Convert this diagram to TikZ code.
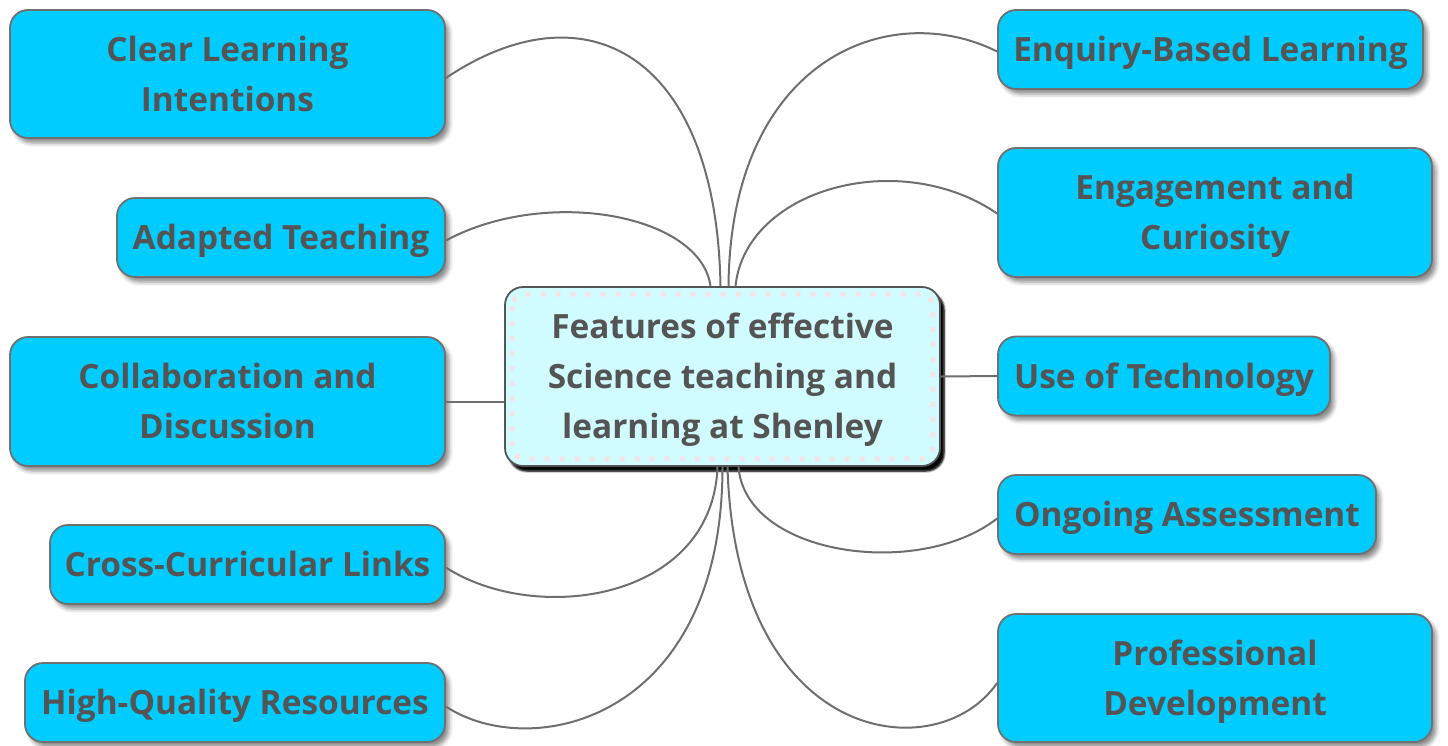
\documentclass[tikz,border=0pt]{standalone}
\usepackage{fontspec}
\setmainfont{Open Sans}
\usetikzlibrary{shadows.blur}

\definecolor{boxblue}{RGB}{0,204,255}
\definecolor{hubfill}{RGB}{208,252,255}
\definecolor{boxline}{RGB}{112,112,112}
\definecolor{hubline}{RGB}{85,85,85}
\definecolor{labelgray}{RGB}{84,84,84}
\definecolor{linkgray}{RGB}{110,110,110}
\definecolor{dotpink}{RGB}{243,228,234}

\tikzset{
    topic/.style={draw=boxline, line width=1.8pt, fill=boxblue, rounded corners=18pt,
        align=center, text=labelgray, inner sep=0pt,
        font=\fontsize{33.4}{50}\selectfont\bfseries,
        text height=39pt, text depth=15pt,
        blur shadow={shadow xshift=4pt, shadow yshift=-5pt, shadow blur radius=4pt, shadow opacity=45}},
    % box heights for labels set on two or three lines
    twolines/.style={text height=89pt},
    threelines/.style={text height=139pt},
    hub/.style={topic, draw=hubline, fill=hubfill,
        blur shadow={shadow xshift=4pt, shadow yshift=-5pt, shadow blur radius=2pt, shadow opacity=85}},
    link/.style={draw=linkgray, line width=2pt}
}

\begin{document}
\begin{tikzpicture}[x=1pt, y=-1pt]

        \useasboundingbox (0,0) rectangle (1448,745);

        % central topic
        \node[hub, threelines, minimum width=435pt, minimum height=179pt] (ctr) at (722.5,376.5)
            {Features of effective\\Science teaching and\\learning at Shenley};
        \draw[dotpink, line width=5pt, dash pattern=on 5pt off 10pt, rounded corners=12pt]
            ([xshift=8pt,yshift=-8pt]ctr.north west) rectangle ([xshift=-8pt,yshift=8pt]ctr.south east);

        % left branches
        \node[topic, twolines, minimum width=435pt, minimum height=128pt] (cli) at (227.5,74) {Clear Learning\\Intentions};
        \node[topic, minimum width=328pt, minimum height=79pt] (adapt) at (281,237.5) {Adapted Teaching};
        \node[topic, twolines, minimum width=435pt, minimum height=129pt] (collab) at (227.5,401.5) {Collaboration and\\Discussion};
        \node[topic, minimum width=395pt, minimum height=79pt] (cross) at (247.5,564.5) {Cross-Curricular Links};
        \node[topic, minimum width=420pt, minimum height=79pt] (res) at (235,702.5) {High-Quality Resources};

        % right branches
        \node[topic, minimum width=425pt, minimum height=79pt] (enq) at (1210.5,49.5) {Enquiry-Based Learning};
        \node[topic, twolines, minimum width=434pt, minimum height=129pt] (engage) at (1215,212.5) {Engagement and\\Curiosity};
        \node[topic, minimum width=332pt, minimum height=79pt] (tech) at (1164,376) {Use of Technology};
        \node[topic, minimum width=378pt, minimum height=79pt] (assess) at (1187,514.5) {Ongoing Assessment};
        \node[topic, twolines, minimum width=434pt, minimum height=128pt] (prof) at (1215,678) {Professional\\Development};

        % links above the hub
        \draw[link] ([yshift=-4pt]cli.east) .. controls +(140,-94) and +(-4,-232) .. ([xshift=-2pt]ctr.north);
        \draw[link] ([yshift=-3pt]adapt.east) .. controls +(100,-54) and +(-10,-72) .. ([xshift=-12pt]ctr.north);
        \draw[link] ([yshift=-2pt]enq.west) .. controls +(-108,-54) and +(2,-227) .. ([xshift=6pt]ctr.north);
        \draw[link] ([yshift=-1pt]engage.west) .. controls +(-98,-67) and +(10,-97) .. ([xshift=13pt]ctr.north);

        % links below the hub
        \draw[link] ([yshift=-3pt]cross.east) .. controls +(90,58) and +(-5,134) .. ([xshift=-5pt]ctr.south);
        \draw[link] ([yshift=-4pt]res.east) .. controls +(85,56) and +(0,254) .. ([xshift=0pt]ctr.south);
        \draw[link] ([yshift=-4pt]assess.west) .. controls +(-78,61) and +(7,89) .. ([xshift=16pt]ctr.south);
        \draw[link] ([yshift=-5pt]prof.west) .. controls +(-60,87) and +(8,279) .. ([xshift=5pt]ctr.south);

        % side links
        \draw[link] (collab.east) -- ([yshift=-25pt]ctr.west);
        \draw[link] (ctr.east) -- (tech.west);

\end{tikzpicture}
\end{document}
